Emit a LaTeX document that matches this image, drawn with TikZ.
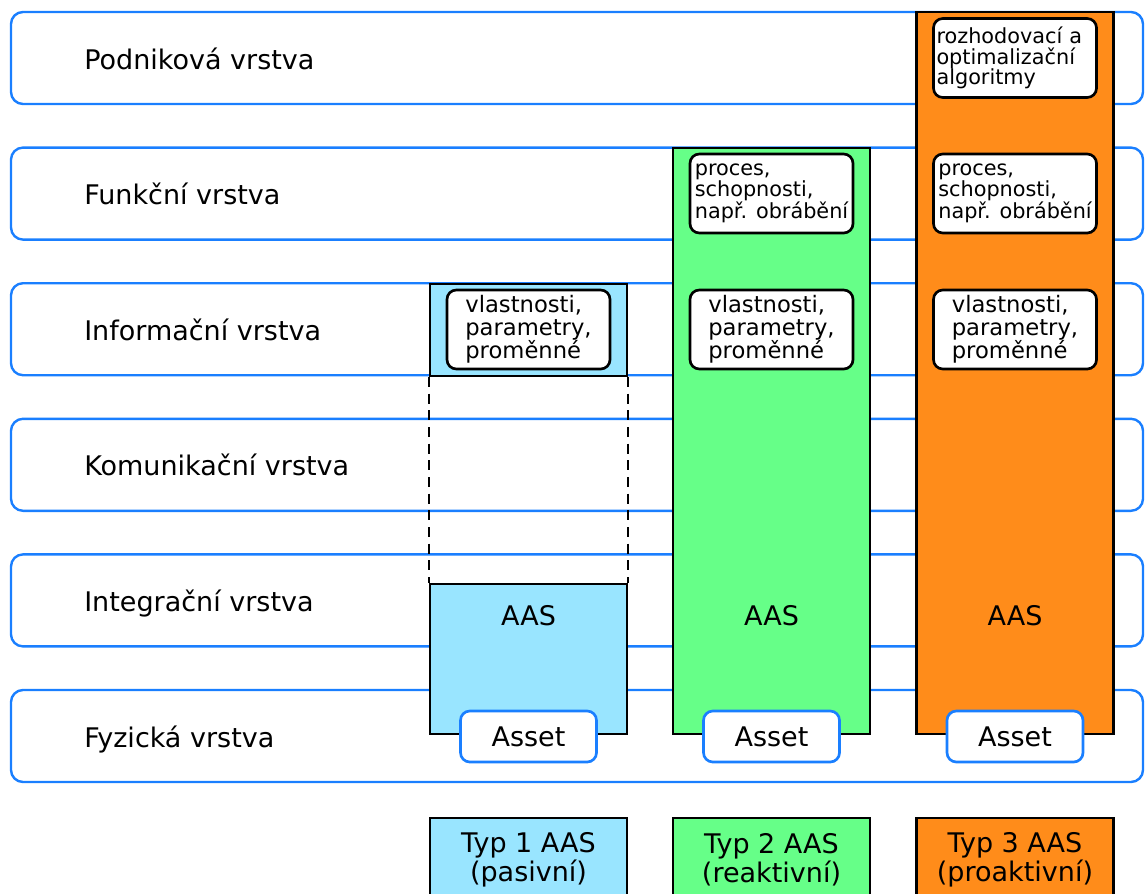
\documentclass[tikz,border=0pt]{standalone}
\usepackage{fontspec}
\setmainfont{DejaVu Sans}
\definecolor{bandblue}{HTML}{1A7FFF}
\definecolor{typeone}{HTML}{99E5FF}
\definecolor{typetwo}{HTML}{66FF88}
\definecolor{typethree}{HTML}{FF8C1A}
\newdimen\px \px=0.75pt
\begin{document}
\begin{tikzpicture}[x=0.75pt,y=-0.75pt,
    band/.style={draw=bandblue,line width=1.8pt,rounded corners=9pt},
    layer/.style={anchor=base west,inner sep=0pt,font=\fontsize{20.25}{24}\selectfont},
    col/.style={draw=black,line width=1.6pt,minimum width=197\px,inner sep=0pt},
    info/.style={draw=black,fill=white,line width=2pt,rounded corners=7pt,
      minimum width=163\px,minimum height=79\px,inner sep=2\px,align=left,
      font=\fontsize{15.6}{15.6}\selectfont},
    props/.style={info,font=\fontsize{17}{17.25}\selectfont},
    asset/.style={draw=bandblue,fill=white,line width=2pt,rounded corners=7pt,
      minimum width=136\px,minimum height=51\px,font=\fontsize{20.25}{24}\selectfont},
    aas/.style={font=\fontsize{20.25}{24}\selectfont},
    typ/.style={draw=black,line width=1.6pt,minimum width=197\px,minimum height=84\px,
      align=center,font=\fontsize{20.25}{20.25}\selectfont}]
  \useasboundingbox(0,0)rectangle(1145,893);
  % layers
  \foreach \t [count=\i from 0] in {Podniková vrstva,Funkční vrstva,Informační vrstva,
      Komunikační vrstva,Integrační vrstva,Fyzická vrstva}{
    \draw[band](11,{12+135.6*\i})rectangle(1143,{104+135.6*\i});
    \node[layer](layer\i)at(84,{69+135.6*\i}){\t};
  }
  % typ 1
  \node[col,fill=typeone,minimum height=92\px](t1info)at(528.5,330){};
  \node[col,fill=typeone,minimum height=150\px](t1aas)at(528.5,659){};
  \draw[line width=1.2pt,dash pattern=on 7.5pt off 5pt]
    (t1info.south west)--(t1aas.north west)
    (t1info.south east)--(t1aas.north east);
  \node[props](t1prop)at(528.5,329.5){vlastnosti,\\parametry,\\proměnné};
  % typ 2
  \node[col,fill=typetwo,minimum height=586\px](t2)at(771.5,441){};
  \node[info](t2proc)at(771.5,193.5){proces,\\schopnosti,\\např. obrábění};
  \node[props](t2prop)at(771.5,329.5){vlastnosti,\\parametry,\\proměnné};
  % typ 3
  \node[col,fill=typethree,minimum height=722\px](t3)at(1015,373){};
  \node[info,text width=157\px](t3alg)at(1015,58){rozhodovací a\\optimalizační\\algoritmy};
  \node[info](t3proc)at(1015,193.5){proces,\\schopnosti,\\např. obrábění};
  \node[props](t3prop)at(1015,329.5){vlastnosti,\\parametry,\\proměnné};
  % AAS + asset
  \foreach \n/\x in {1/528.5,2/771.5,3/1015}{
    \node[aas](t\n lbl)at(\x,616){AAS};
    \node[asset](t\n asset)at(\x,736.5){Asset};
  }
  % legend
  \node[typ,fill=typeone](t1typ)at(528.5,860){Typ 1 AAS\\(pasivní)};
  \node[typ,fill=typetwo](t2typ)at(771.5,860){Typ 2 AAS\\(reaktivní)};
  \node[typ,fill=typethree](t3typ)at(1015,860){Typ 3 AAS\\(proaktivní)};
\end{tikzpicture}
\end{document}
